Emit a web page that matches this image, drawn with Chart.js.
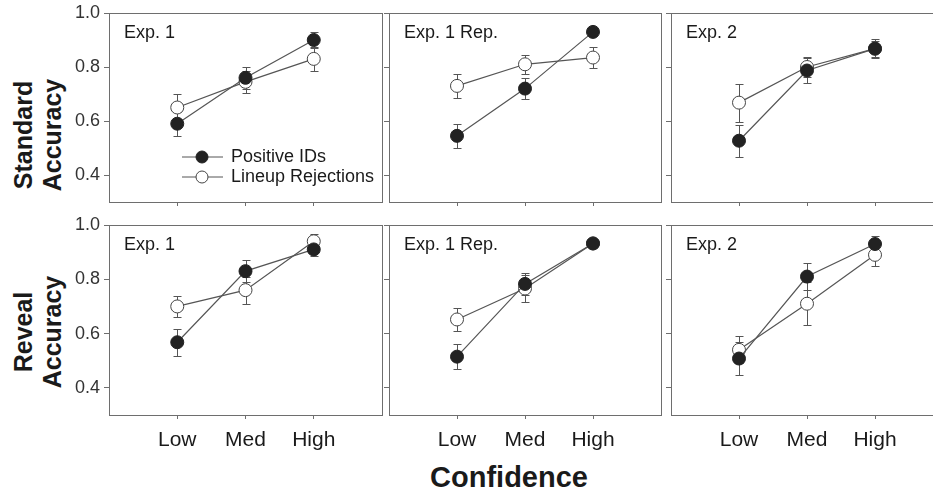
<!DOCTYPE html>
<html>
<head>
<meta charset="utf-8">
<script src="https://cdn.jsdelivr.net/npm/chart.js@4"></script>
<style>
    html, body { margin: 0; padding: 0; background: #fff; overflow: hidden; }
    body { width: 933px; height: 493px; position: relative; font-family: "Liberation Sans", Arial, sans-serif; color: #1a1a1a; }
    .panel { position: absolute; }
    .ytitle {
        position: absolute; width: 200px; margin-left: -100px; text-align: center;
        font-weight: bold; font-size: 25px; line-height: 29px;
        transform: rotate(-90deg);
    }
    .xtitle { position: absolute; font-weight: bold; font-size: 29px; left: 409px; width: 200px; text-align: center; top: 461px; }
</style>
</head>
<body>
<div class="ytitle" style="left:38px; top:106px;">Standard<br>Accuracy</div>
<div class="ytitle" style="left:38px; top:303px;">Reveal<br>Accuracy</div>
<div class="xtitle">Confidence</div>

<script>
// Data
const categories = ['Low', 'Med', 'High'];
const yTicks = [0.4, 0.6, 0.8, 1.0];
const seriesNames = ['Positive IDs', 'Lineup Rejections'];

const stdExp1Pos = [0.59, 0.76, 0.90];
const stdExp1PosErr = [0.045, 0.04, 0.03];
const stdExp1Rej = [0.65, 0.745, 0.83];
const stdExp1RejErr = [0.05, 0.04, 0.045];

const stdRepPos = [0.545, 0.72, 0.93];
const stdRepPosErr = [0.045, 0.04, 0.015];
const stdRepRej = [0.73, 0.81, 0.835];
const stdRepRejErr = [0.045, 0.035, 0.038];

const stdExp2Pos = [0.527, 0.787, 0.868];
const stdExp2PosErr = [0.06, 0.045, 0.035];
const stdExp2Rej = [0.668, 0.80, 0.868];
const stdExp2RejErr = [0.07, 0.037, 0.03];

const revExp1Pos = [0.568, 0.83, 0.91];
const revExp1PosErr = [0.05, 0.04, 0.025];
const revExp1Rej = [0.70, 0.76, 0.94];
const revExp1RejErr = [0.04, 0.05, 0.028];

const revRepPos = [0.515, 0.783, 0.932];
const revRepPosErr = [0.045, 0.04, 0.015];
const revRepRej = [0.652, 0.766, 0.932];
const revRepRejErr = [0.043, 0.05, 0.015];

const revExp2Pos = [0.508, 0.81, 0.93];
const revExp2PosErr = [0.06, 0.05, 0.028];
const revExp2Rej = [0.54, 0.71, 0.89];
const revExp2RejErr = [0.05, 0.08, 0.04];

const panels = [
    { title: 'Exp. 1', row: 0, col: 0, pos: stdExp1Pos, posErr: stdExp1PosErr, rej: stdExp1Rej, rejErr: stdExp1RejErr, legend: true },
    { title: 'Exp. 1 Rep.', row: 0, col: 1, pos: stdRepPos, posErr: stdRepPosErr, rej: stdRepRej, rejErr: stdRepRejErr },
    { title: 'Exp. 2', row: 0, col: 2, pos: stdExp2Pos, posErr: stdExp2PosErr, rej: stdExp2Rej, rejErr: stdExp2RejErr },
    { title: 'Exp. 1', row: 1, col: 0, pos: revExp1Pos, posErr: revExp1PosErr, rej: revExp1Rej, rejErr: revExp1RejErr },
    { title: 'Exp. 1 Rep.', row: 1, col: 1, pos: revRepPos, posErr: revRepPosErr, rej: revRepRej, rejErr: revRepRejErr },
    { title: 'Exp. 2', row: 1, col: 2, pos: revExp2Pos, posErr: revExp2PosErr, rej: revExp2Rej, rejErr: revExp2RejErr }
];

// plot area placement (px)
const colLeft = [109, 389, 671];
const colWidth = [273, 272, 272];
const rowTop = [13, 225];
const rowHeight = [189, 190];

const AXIS = '#6e6e6e';
const LINE = '#555';
const FONT = '"Liberation Sans", Arial, sans-serif';

// vertical error bars, drawn under the markers
const errorBars = {
    id: 'errorBars',
    beforeDatasetsDraw(chart) {
        const { ctx, scales: { x, y } } = chart;
        ctx.save();
        ctx.strokeStyle = '#555';
        ctx.lineWidth = 1;
        chart.data.datasets.forEach(ds => {
            ds.data.forEach((pt, i) => {
                const px = Math.round(x.getPixelForValue(pt.x)) + 0.5;
                const top = Math.round(y.getPixelForValue(pt.y + ds.err[i])) + 0.5;
                const bot = Math.round(y.getPixelForValue(pt.y - ds.err[i])) + 0.5;
                ctx.beginPath();
                ctx.moveTo(px, top); ctx.lineTo(px, bot);
                ctx.moveTo(px - 4, top); ctx.lineTo(px + 4, top);
                ctx.moveTo(px - 4, bot); ctx.lineTo(px + 4, bot);
                ctx.stroke();
            });
        });
        ctx.restore();
    }
};

const frameAndLabels = {
    id: 'frameAndLabels',
    beforeDraw(chart, args, opts) {
        const { ctx, chartArea: a } = chart;
        ctx.save();
        ctx.strokeStyle = AXIS;
        ctx.lineWidth = 1;
        ctx.strokeRect(a.left + 0.5, a.top + 0.5, a.right - a.left, a.bottom - a.top);
        ctx.restore();
    },
    afterDraw(chart, args, opts) {
        const { ctx, chartArea: a } = chart;
        ctx.save();
        ctx.fillStyle = '#1a1a1a';
        ctx.font = '18px ' + FONT;
        ctx.textBaseline = 'middle';
        ctx.fillText(opts.title, a.left + 15, a.top + 20);
        if (opts.legend) {
            const styles = [['#222', '#222'], ['#fff', '#444']];
            seriesNames.forEach((name, i) => {
                const yy = a.top + 144 + i * 20;
                ctx.strokeStyle = LINE;
                ctx.lineWidth = 1;
                ctx.beginPath();
                ctx.moveTo(a.left + 73, yy); ctx.lineTo(a.left + 114, yy);
                ctx.stroke();
                ctx.beginPath();
                ctx.arc(a.left + 93, yy, 6, 0, Math.PI * 2);
                ctx.fillStyle = styles[i][0];
                ctx.fill();
                ctx.strokeStyle = styles[i][1];
                ctx.stroke();
                ctx.fillStyle = '#1a1a1a';
                ctx.fillText(name, a.left + 122, yy);
            });
        }
        ctx.restore();
    }
};

function noPad(s) {
    s.paddingTop = 0; s.paddingBottom = 0; s.paddingLeft = 0; s.paddingRight = 0;
}

panels.forEach(p => {
    const showY = p.col === 0;
    const showX = p.row === 1;
    const W = showY ? 60 : 12;
    const H = showX ? 45 : 12;
    const P = 10;
    const div = document.createElement('div');
    div.className = 'panel';
    div.style.left = (colLeft[p.col] - W) + 'px';
    div.style.top = (rowTop[p.row] - P) + 'px';
    div.style.width = (colWidth[p.col] + W + P) + 'px';
    div.style.height = (rowHeight[p.row] + P + H) + 'px';
    const canvas = document.createElement('canvas');
    div.appendChild(canvas);
    document.body.appendChild(div);

    new Chart(canvas, {
        type: 'line',
        data: {
            datasets: [
                {
                    label: seriesNames[0],
                    data: p.pos.map((v, i) => ({ x: i + 1, y: v })),
                    err: p.posErr,
                    borderColor: LINE, borderWidth: 1.2,
                    pointRadius: 6.5, pointBorderWidth: 1,
                    pointBackgroundColor: '#222', pointBorderColor: '#222'
                },
                {
                    label: seriesNames[1],
                    data: p.rej.map((v, i) => ({ x: i + 1, y: v })),
                    err: p.rejErr,
                    borderColor: LINE, borderWidth: 1.2,
                    pointRadius: 6.5, pointBorderWidth: 1,
                    pointBackgroundColor: '#fff', pointBorderColor: '#444'
                }
            ]
        },
        options: {
            responsive: true,
            maintainAspectRatio: false,
            animation: false,
            layout: { padding: { top: P, right: P, left: 0, bottom: 0 } },
            scales: {
                x: {
                    type: 'linear', min: 0, max: 4,
                    afterBuildTicks: s => { s.ticks = categories.map((c, i) => ({ value: i + 1 })); },
                    afterFit: s => { s.height = H; noPad(s); },
                    grid: { drawOnChartArea: false, drawTicks: true, tickLength: 4, color: AXIS },
                    border: { display: true, color: AXIS },
                    ticks: {
                        display: showX, padding: 9, color: '#1a1a1a',
                        font: { family: FONT, size: 21 },
                        callback: v => categories[v - 1]
                    }
                },
                y: {
                    min: 0.3, max: 1.0,
                    afterBuildTicks: s => { s.ticks = yTicks.map(v => ({ value: v })); },
                    afterFit: s => { s.width = W; noPad(s); },
                    grid: { drawOnChartArea: false, drawTicks: true, tickLength: 5, color: AXIS },
                    border: { display: true, color: AXIS },
                    ticks: {
                        display: showY, padding: 4, color: '#333',
                        font: { family: FONT, size: 18 },
                        callback: v => v.toFixed(1)
                    }
                }
            },
            plugins: {
                legend: { display: false },
                tooltip: { enabled: false },
                frameAndLabels: { title: p.title, legend: !!p.legend }
            }
        },
        plugins: [errorBars, frameAndLabels]
    });
});
</script>
</body>
</html>
